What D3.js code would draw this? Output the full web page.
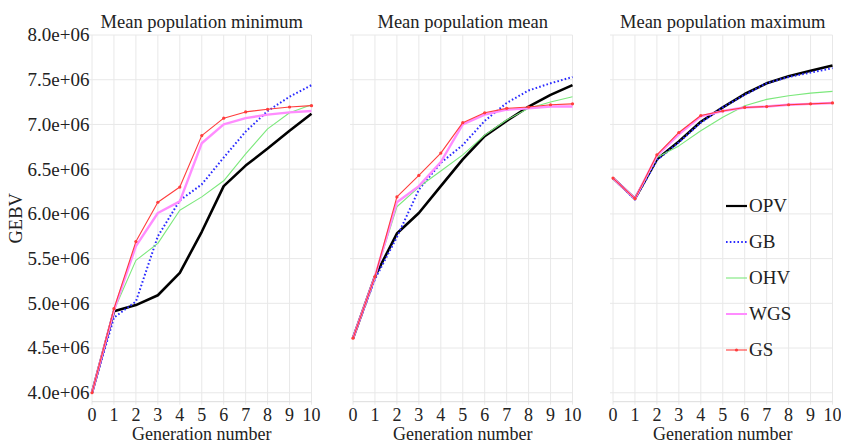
<!DOCTYPE html>
<html>
<head>
<meta charset="utf-8">
<script src="https://cdn.jsdelivr.net/npm/d3@7"></script>
<style>
  body { margin: 0; background: #fff; }
  svg text { font-family: "Liberation Serif", "Times New Roman", serif; fill: #222; }
</style>
</head>
<body>
<div id="chart"></div>
<script>
// Data (GEBV in millions)
const generations = [0, 1, 2, 3, 4, 5, 6, 7, 8, 9, 10];
const seriesNames = ['OPV', 'GB', 'OHV', 'WGS', 'GS'];
const panelTitles = ['Mean population minimum', 'Mean population mean', 'Mean population maximum'];
const yTicks = [4.0, 4.5, 5.0, 5.5, 6.0, 6.5, 7.0, 7.5, 8.0];

const minOPV = [4.00, 4.91, 4.98, 5.09, 5.34, 5.80, 6.31, 6.54, 6.73, 6.93, 7.12];
const minGB  = [4.00, 4.84, 5.02, 5.75, 6.15, 6.33, 6.63, 6.92, 7.15, 7.31, 7.44];
const minOHV = [4.00, 4.92, 5.48, 5.67, 6.04, 6.19, 6.37, 6.67, 6.95, 7.13, 7.22];
const minWGS = [4.00, 4.92, 5.64, 6.01, 6.14, 6.79, 7.00, 7.07, 7.11, 7.135, 7.15];
const minGS  = [4.00, 4.94, 5.69, 6.13, 6.30, 6.875, 7.07, 7.14, 7.17, 7.195, 7.21];

const meanOPV = [4.61, 5.30, 5.78, 6.01, 6.31, 6.61, 6.87, 7.04, 7.20, 7.33, 7.44];
const meanGB  = [4.61, 5.27, 5.74, 6.27, 6.57, 6.77, 7.04, 7.24, 7.38, 7.46, 7.53];
const meanOHV = [4.61, 5.30, 6.08, 6.30, 6.48, 6.66, 6.88, 7.05, 7.18, 7.25, 7.31];
const meanWGS = [4.61, 5.30, 6.13, 6.31, 6.58, 7.00, 7.11, 7.165, 7.18, 7.20, 7.20];
const meanGS  = [4.61, 5.30, 6.19, 6.43, 6.68, 7.02, 7.13, 7.18, 7.195, 7.22, 7.23];

const maxOPV = [6.40, 6.17, 6.61, 6.81, 7.03, 7.19, 7.34, 7.46, 7.54, 7.60, 7.66];
const maxGB  = [6.40, 6.16, 6.60, 6.80, 7.02, 7.19, 7.33, 7.46, 7.53, 7.58, 7.63];
const maxOHV = [6.40, 6.17, 6.63, 6.76, 6.93, 7.08, 7.21, 7.28, 7.32, 7.35, 7.37];
const maxWGS = [6.40, 6.17, 6.65, 6.89, 7.09, 7.15, 7.19, 7.20, 7.22, 7.23, 7.24];
const maxGS  = [6.40, 6.17, 6.66, 6.91, 7.10, 7.15, 7.19, 7.20, 7.22, 7.23, 7.24];

const panelData = [
    [minOPV, minGB, minOHV, minWGS, minGS],
    [meanOPV, meanGB, meanOHV, meanWGS, meanGS],
    [maxOPV, maxGB, maxOHV, maxWGS, maxGS]
];

const styles = {
    OPV: {color: '#000000', width: 2.6, dash: null},
    GB:  {color: '#2a2aff', width: 2, dash: '1.6,2.2'},
    OHV: {color: '#7ce87c', width: 1.1, dash: null},
    WGS: {color: '#ff8cff', width: 2.4, dash: null},
    GS:  {color: '#ff3c3c', width: 1.1, dash: null}
};

const W = 841, H = 444;
const panelLeft = [92, 353, 613];
const panelWidth = 219.5;
const plotTop = 35, plotBottom = 401.7;

const svg = d3.select('#chart')
    .append('svg')
    .attr('width', W)
    .attr('height', H);

const y = d3.scaleLinear()
    .domain([3.9, 8.0])
    .range([plotBottom, plotTop]);

panelData.forEach((series, p) => {
    const x = d3.scaleLinear()
        .domain([0, 10])
        .range([panelLeft[p], panelLeft[p] + panelWidth]);

    const g = svg.append('g');

    // Grid
    g.selectAll('.vgrid')
        .data(generations)
        .enter().append('line')
        .attr('x1', d => x(d)).attr('x2', d => x(d))
        .attr('y1', plotTop).attr('y2', plotBottom + 3)
        .attr('stroke', '#e8e8e8')
        .attr('stroke-width', 1);

    g.selectAll('.hgrid')
        .data(yTicks)
        .enter().append('line')
        .attr('x1', x(0) - 3).attr('x2', x(10))
        .attr('y1', d => y(d)).attr('y2', d => y(d))
        .attr('stroke', '#e8e8e8')
        .attr('stroke-width', 1);

    // Frame bottom
    g.append('line')
        .attr('x1', x(0)).attr('x2', x(10))
        .attr('y1', plotBottom).attr('y2', plotBottom)
        .attr('stroke', '#dcdcdc');

    // Title
    g.append('text')
        .attr('x', (x(0) + x(10)) / 2)
        .attr('y', 28)
        .attr('text-anchor', 'middle')
        .attr('font-size', '18.5px')
        .text(panelTitles[p]);

    // X tick labels
    g.selectAll('.xlab')
        .data(generations)
        .enter().append('text')
        .attr('x', d => x(d))
        .attr('y', 420.5)
        .attr('text-anchor', 'middle')
        .attr('font-size', '18px')
        .text(d => d);

    g.append('text')
        .attr('x', (x(0) + x(10)) / 2)
        .attr('y', 440)
        .attr('text-anchor', 'middle')
        .attr('font-size', '18px')
        .text('Generation number');

    // Y tick labels on first panel only
    if (p === 0) {
        g.selectAll('.ylab')
            .data(yTicks)
            .enter().append('text')
            .attr('x', 89.5)
            .attr('y', d => y(d))
            .attr('dy', '0.34em')
            .attr('text-anchor', 'end')
            .attr('font-size', '19px')
            .text(d => d.toFixed(1) + 'e+06');

        g.append('text')
            .attr('transform', 'rotate(-90)')
            .attr('x', -(plotTop + plotBottom) / 2)
            .attr('y', 22)
            .attr('text-anchor', 'middle')
            .attr('font-size', '18.5px')
            .text('GEBV');
    }

    const line = d3.line()
        .x((d, i) => x(generations[i]))
        .y(d => y(d));

    series.forEach((vals, s) => {
        const st = styles[seriesNames[s]];
        g.append('path')
            .datum(vals)
            .attr('d', line)
            .attr('fill', 'none')
            .attr('stroke', st.color)
            .attr('stroke-width', st.width)
            .attr('stroke-linejoin', 'round')
            .attr('stroke-dasharray', st.dash);

        if (seriesNames[s] === 'GS') {
            g.selectAll('.gsdot')
                .data(vals)
                .enter().append('circle')
                .attr('cx', (d, i) => x(generations[i]))
                .attr('cy', d => y(d))
                .attr('r', 1.6)
                .attr('fill', st.color);
        }
    });
});

// Legend
const legend = svg.append('g');
seriesNames.forEach((name, i) => {
    const st = styles[name];
    const ly = 206 + i * 36;
    legend.append('line')
        .attr('x1', 726).attr('x2', 747)
        .attr('y1', ly).attr('y2', ly)
        .attr('stroke', st.color)
        .attr('stroke-width', name === 'OPV' ? 2.2 : Math.min(st.width, 2))
        .attr('stroke-dasharray', st.dash);
    if (name === 'GS') {
        legend.append('circle')
            .attr('cx', 736.5).attr('cy', ly)
            .attr('r', 1.6)
            .attr('fill', st.color);
    }
    legend.append('text')
        .attr('x', 749)
        .attr('y', ly)
        .attr('dy', '0.34em')
        .attr('font-size', '19px')
        .text(name);
});
</script>
</body>
</html>
